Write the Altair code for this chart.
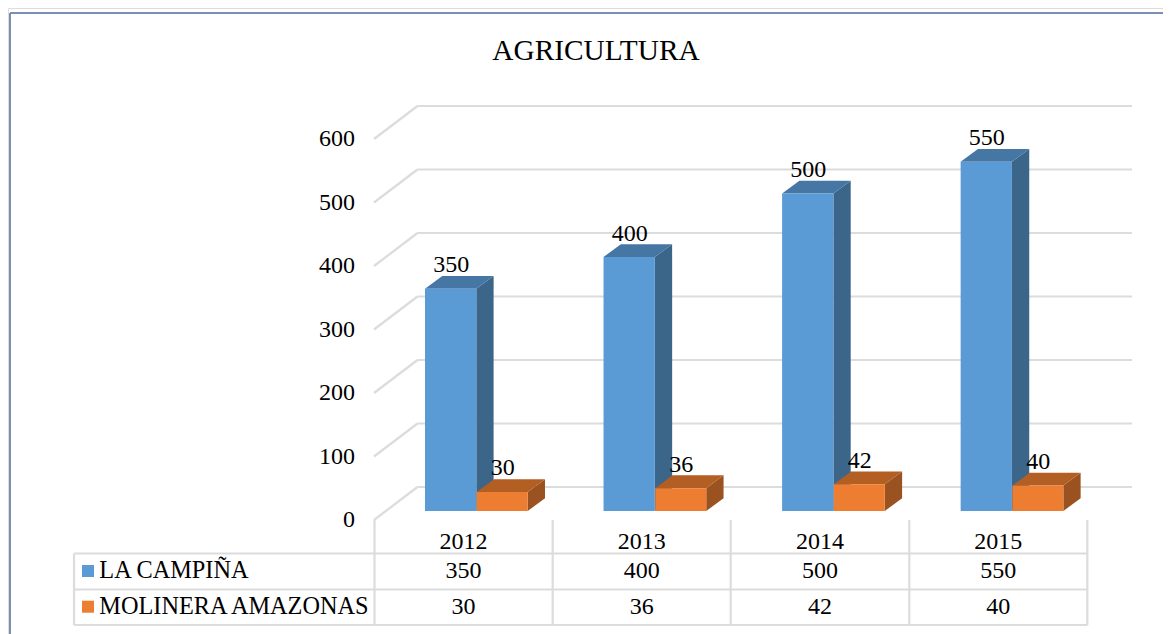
import altair as alt
import pandas as pd

years = ["2012", "2013", "2014", "2015"]
campina = [350, 400, 500, 550]
molinera = [30, 36, 42, 40]
ticks = [0, 100, 200, 300, 400, 500, 600]
series_names = ["LA CAMPIÑA", "MOLINERA AMAZONAS"]
title_text = "AGRICULTURA"

BLUE, BLUE_TOP, BLUE_SIDE = "#5b9bd5", "#4676a4", "#3b6589"
ORANGE, ORANGE_TOP, ORANGE_SIDE = "#ed7d31", "#b35e22", "#9a5220"
GRID = "#dcdcdc"
FONT = "Liberation Serif"
INK = "#000000"

# Layout of the drawing, in page pixels
X0, X1, Y0, Y1 = 8, 1163, 8, 634
ZERO_Y = 520.0
PX_PER_UNIT = 0.635
BASE_PX = 9.0          # bars stand this far above the front floor
DX, DY_PX = 17.3, 12.8 # depth of the bars
WALL_DX, WALL_DY_PX = 43.5, 33.0


def val(py):
    return (ZERO_Y - py) / PX_PER_UNIT


XS = alt.Scale(domain=[X0, X1], range=[0, X1 - X0], nice=False, zero=False)
YS = alt.Scale(domain=[val(Y1), val(Y0)], range=[Y1 - Y0, 0], nice=False, zero=False)
xe = lambda f="x": alt.X(f"{f}:Q", scale=XS, axis=None)
ye = lambda f="y": alt.Y(f"{f}:Q", scale=YS, axis=None)

base_v = BASE_PX / PX_PER_UNIT
dy_v = DY_PX / PX_PER_UNIT


def bar_geometry(values, lefts, w):
    fronts, faces, labels = [], [], []
    for i, (v, left) in enumerate(zip(values, lefts)):
        top = v + base_v
        r = left + w
        fronts.append(dict(x=left, x2=r, y=base_v, y2=top))
        # side face
        faces += [dict(id=f"s{i}", kind="side", x=r, y=base_v, y2=top),
                  dict(id=f"s{i}", kind="side", x=r + DX, y=base_v + dy_v, y2=top + dy_v)]
        # top face
        faces += [dict(id=f"t{i}", kind="top", x=left, y=top, y2=top),
                  dict(id=f"t{i}", kind="top", x=left + DX, y=top, y2=top + dy_v),
                  dict(id=f"t{i}", kind="top", x=r, y=top, y2=top + dy_v),
                  dict(id=f"t{i}", kind="top", x=r + DX, y=top + dy_v, y2=top + dy_v)]
        labels.append(dict(x=(left + r) / 2 + 0.5, y=top + dy_v + 3.7 / PX_PER_UNIT, t=str(v)))
    return pd.DataFrame(fronts), pd.DataFrame(faces), pd.DataFrame(labels)


def faces_layer(df, top_c, side_c):
    return alt.Chart(df).mark_area(interpolate="linear", opacity=1).encode(
        x=xe(), y=ye(), y2="y2:Q", detail="id:N",
        color=alt.Color("kind:N", scale=alt.Scale(domain=["top", "side"], range=[top_c, side_c]), legend=None),
    )


def fronts_layer(df, c):
    return alt.Chart(df).mark_rect(color=c).encode(x=xe(), x2="x2:Q", y=ye(), y2="y2:Q")


def lines(df, color, width):
    return alt.Chart(df).mark_rule(color=color, strokeWidth=width).encode(
        x=xe(), x2="x2:Q", y=ye(), y2="y2:Q")


def text(df, size, align="center", color=INK):
    return alt.Chart(df).mark_text(font=FONT, fontSize=size, align=align, baseline="alphabetic", color=color).encode(
        x=xe(), y=ye(), text="t:N")


# grid walls
wall_dy = WALL_DY_PX / PX_PER_UNIT
back = pd.DataFrame([dict(x=374 + WALL_DX, x2=1132, y=t + wall_dy, y2=t + wall_dy) for t in ticks])
side = pd.DataFrame([dict(x=374, x2=374 + WALL_DX, y=t, y2=t + wall_dy) for t in ticks])

# table
COLS = [374.5, 552.7, 730.7, 909.3, 1087.3]
ROWS = [553.5, 589.5, 625.0]
TBL_L = 74
tbl = []
for r in ROWS:
    tbl.append(dict(x=TBL_L, x2=COLS[-1], y=val(r), y2=val(r)))
tbl.append(dict(x=TBL_L, x2=TBL_L, y=val(ROWS[0]), y2=val(ROWS[-1])))
for c in COLS:
    tbl.append(dict(x=c, x2=c, y=val(ZERO_Y), y2=val(ROWS[-1])))
tbl = pd.DataFrame(tbl)

centers = [(COLS[i] + COLS[i + 1]) / 2 for i in range(4)]
year_t = pd.DataFrame(dict(x=centers, y=[val(548.5)] * 4, t=years))
row1_t = pd.DataFrame(dict(x=centers, y=[val(578)] * 4, t=[str(v) for v in campina]))
row2_t = pd.DataFrame(dict(x=centers, y=[val(614)] * 4, t=[str(v) for v in molinera]))
name_t = pd.DataFrame(dict(x=[99.3, 99.3], y=[val(578), val(614)], t=series_names))
tick_t = pd.DataFrame(dict(x=[355] * len(ticks), y=[t - 7.0 / PX_PER_UNIT for t in ticks], t=[str(t) for t in ticks]))
title_t = pd.DataFrame(dict(x=[596], y=[val(60)], t=[title_text]))

legend = pd.DataFrame([
    dict(x=82, x2=94, y=val(577), y2=val(565), c=BLUE),
    dict(x=82, x2=94, y=val(612.7), y2=val(600.7), c=ORANGE),
])
legend_l = alt.Chart(legend).mark_rect().encode(
    x=xe(), x2="x2:Q", y=ye(), y2="y2:Q", color=alt.Color("c:N", scale=None))

frame = pd.DataFrame([
    dict(x=10, x2=10, y=val(Y1), y2=val(13)),
    dict(x=10, x2=X1, y=val(13), y2=val(13)),
])

blue_l = [425 + i * 178.55 for i in range(4)]
orange_l = [476.7 + i * 178.55 for i in range(4)]
bf, bs, bl = bar_geometry(campina, blue_l, 51.3)
of, os_, ol = bar_geometry(molinera, orange_l, 51.0)

chart = alt.layer(
    lines(frame, "#7b8fb3", 2),
    text(title_t, 29.3),
    lines(back, GRID, 2.2),
    lines(side, GRID, 2.2),
    faces_layer(bs, BLUE_TOP, BLUE_SIDE),
    fronts_layer(bf, BLUE),
    faces_layer(os_, ORANGE_TOP, ORANGE_SIDE),
    fronts_layer(of, ORANGE),
    lines(tbl, GRID, 2.2),
    legend_l,
    text(bl, 24), text(ol, 24),
    text(tick_t, 24, align="right"),
    text(year_t, 24), text(row1_t, 24), text(row2_t, 24),
    text(name_t, 24.3, align="left"),
).properties(
    width=X1 - X0, height=Y1 - Y0, padding=0,
    autosize=alt.AutoSizeParams(type="none"),
).resolve_scale(color="independent").configure_view(stroke=None).configure(background="#ffffff")

chart.save("out.html", embed_options={"renderer": "svg", "actions": False})
